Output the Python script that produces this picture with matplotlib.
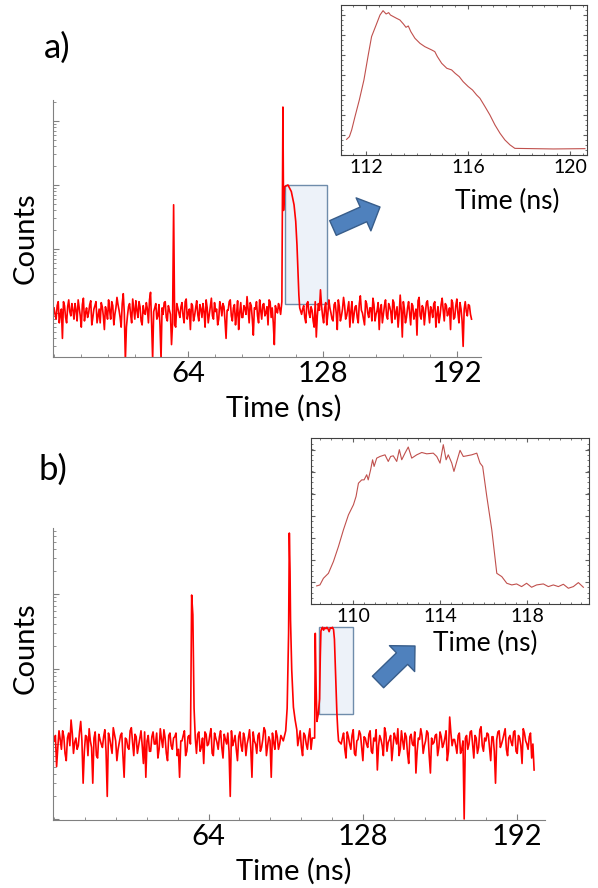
import numpy as np
import matplotlib
matplotlib.use('Agg')
import matplotlib.pyplot as plt
from matplotlib.patches import Rectangle
from matplotlib.ticker import LogLocator, NullFormatter, MultipleLocator, FixedLocator

plt.rcParams['font.family'] = ['Lato', 'DejaVu Sans']

# panel a) main trace (counts, log scale), noise on whole and half ns
a_left = [120, 80, 150, 95, 40, 130, 70, 160, 90, 110,
          140, 75, 120, 60, 170, 100, 85, 135, 65, 115,
          150, 90, 70, 125, 55, 105, 160, 80, 130, 95,
          175, 110, 60, 200, 18, 90, 140, 70, 115, 155,
          85, 125, 65, 100, 145, 70, 210, 19, 120, 80,
          135, 19, 95, 150, 75, 110, 32, 4900, 60, 120,
          85, 145, 70, 165, 100, 55, 130, 90, 155, 75,
          115, 140, 60, 120, 95, 170, 80, 105, 65, 150,
          90, 125, 40, 110, 160, 75, 135, 95, 55, 145,
          85, 120, 180, 70, 130, 45, 115, 90, 160, 80,
          140, 100, 65, 150, 120, 32, 110, 140, 95]
a_left_half = [95, 130, 70, 115, 150, 85, 125, 105, 140, 80,
               110, 160, 90, 135, 75, 120, 100, 155, 85, 130,
               70, 115, 145, 90, 125, 80, 110, 150, 65, 120,
               135, 85, 140, 100, 60, 125, 95, 165, 80, 110,
               150, 75, 130, 95, 115, 160, 70, 105, 140, 90,
               65, 120, 145, 85, 130, 95, 70, 65, 140, 100,
               125, 90, 150, 80, 115, 140, 75, 120, 95, 135,
               85, 105, 160, 70, 130, 90, 145, 115, 80, 125,
               140, 75, 110, 150, 90, 120, 65, 155, 100, 85,
               130, 95, 115, 145, 80, 120, 150, 70, 110, 135,
               90, 125, 160, 85, 70, 130, 100, 120]
a_pulse_t = [108.6, 109.1, 109.4, 109.9, 111.5, 113.1, 114.4, 115.2, 115.8, 116.3, 116.7, 117.1]
a_pulse_c = [150, 165000, 4000, 9400, 10000, 7900, 4900, 2700, 1150, 440, 190, 120]
a_right = [95, 130, 70, 150, 85, 110, 60, 42, 140, 230,
           90, 120, 65, 160, 100, 75, 145, 55, 125, 90,
           175, 80, 115, 60, 150, 95, 130, 70, 185, 100,
           65, 140, 85, 120, 170, 75, 110, 55, 135, 95,
           160, 80, 125, 70, 145, 100, 60, 190, 42, 115,
           85, 150, 65, 130, 95, 45, 175, 80, 120, 100,
           155, 70, 110, 140, 60, 125, 90, 170, 75, 130,
           100, 55, 145, 85, 165, 70, 115, 30, 150, 90,
           130, 80]
a_right_half = [115, 85, 140, 100, 125, 75, 150, 90, 110, 130,
                70, 145, 95, 120, 80, 135, 100, 160, 75, 115,
                130, 90, 150, 105, 70, 125, 85, 140, 110, 80,
                155, 100, 120, 75, 135, 95, 145, 115, 70, 130,
                90, 140, 105, 160, 80, 125, 95, 110, 150, 70,
                120, 100, 140, 80, 115, 155, 90, 130, 65, 145,
                105, 125, 85, 150, 95, 70, 135, 110, 140, 90,
                120, 160, 80, 130, 100, 145, 75, 115, 105, 135,
                95]

# panel b) main trace
b_left = [110, 50, 150, 85, 125, 60, 140, 209, 75, 120,
          95, 200, 30, 130, 70, 110, 30, 145, 65, 115,
          90, 155, 20, 120, 75, 135, 60, 105, 140, 36,
          115, 85, 165, 70, 125, 95, 150, 55, 36, 130,
          80, 145, 100, 65, 160, 90, 120, 60, 140, 85,
          125, 70, 36, 110, 150, 80, 130, 9700, 300, 75,
          145, 90, 55, 135, 100, 160, 70, 120, 85, 150,
          65, 115, 140, 20, 95, 130, 60, 145, 80, 120,
          100, 155, 36, 110, 75, 140, 90, 165, 70, 125,
          36, 105, 150, 85, 130, 110]
b_left_half = [130, 90, 115, 150, 75, 120, 95, 140, 105, 85,
               145, 110, 80, 125, 160, 90, 120, 70, 135, 100,
               125, 80, 140, 95, 165, 110, 85, 130, 70, 120,
               90, 150, 105, 135, 75, 120, 95, 145, 110, 80,
               125, 100, 140, 85, 115, 155, 75, 130, 95, 120,
               140, 85, 110, 130, 70, 125, 100, 5300, 120, 135,
               80, 120, 145, 95, 130, 75, 140, 105, 125, 90,
               135, 100, 80, 150, 110, 85, 125, 95, 140, 70,
               120, 90, 145, 100, 130, 80, 115, 150, 95, 110,
               140, 85, 125, 100, 120]
b_peak_t = [96.0, 96.6, 97.2, 97.5, 97.8, 98.0, 98.5, 99.2, 99.9, 100.6]
b_peak_c = [150, 300, 3000, 65000, 20000, 4500, 970, 310, 210, 155]
b_mid = [95, 150, 70, 130, 85, 160, 120]
b_mid_half = [120, 90, 140, 100, 125, 85]
b_pulse_t = [108.0, 108.26, 108.6, 108.95, 109.5, 110.05, 110.35, 110.61, 111.0, 111.3,
             111.7, 112.2, 112.7, 113.1, 113.6, 114.0, 114.5, 115.0, 115.4, 115.84,
             116.2, 116.53, 116.9, 117.22, 117.6, 117.91]
b_pulse_c = [120, 2990, 600, 200, 250, 400, 1500, 3200, 3500, 3600,
             3300, 3550, 3450, 3600, 3400, 3150, 3550, 3500, 3600, 3350,
             2500, 1200, 500, 260, 150, 110]
b_right = [100, 140, 65, 125, 85, 155, 70, 115, 135, 60,
           120, 90, 150, 75, 110, 45, 130, 95, 165, 80,
           115, 60, 140, 100, 70, 150, 85, 125, 55, 135,
           95, 41, 120, 160, 75, 110, 140, 41, 100, 130,
           70, 145, 90, 120, 60, 229, 95, 115, 75, 140,
           85, 10, 130, 100, 150, 65, 120, 90, 170, 80,
           110, 135, 60, 125, 30, 145, 90, 115, 160, 70,
           130, 95, 150, 75, 120, 55, 140, 100, 125, 65,
           45]
b_right_half = [120, 85, 145, 100, 130, 75, 110, 150, 90, 125,
                100, 135, 80, 120, 155, 95, 115, 70, 140, 105,
                130, 90, 120, 160, 85, 110, 140, 75, 125, 100,
                145, 80, 115, 130, 95, 150, 70, 120, 105, 135,
                90, 125, 100, 150, 80, 140, 115, 95, 130, 75,
                110, 120, 85, 145, 100, 130, 75, 155, 95, 120,
                140, 90, 125, 80, 115, 150, 100, 135, 85, 120,
                105, 145, 80, 130, 95, 160, 110, 85, 140, 100]

# insets (normalised counts, linear)
ia_t = [111.24, 111.35, 111.44, 111.57, 111.74, 111.92, 112.09, 112.22, 112.40, 112.55,
        112.67, 112.79, 112.89, 112.96, 113.08, 113.20, 113.33, 113.47, 113.57, 113.66,
        113.76, 113.92, 114.12, 114.31, 114.58, 114.70, 114.80, 114.97, 115.17, 115.36,
        115.50, 115.66, 115.81, 116.01, 116.18, 116.34, 116.47, 116.67, 116.86, 117.06,
        117.26, 117.45, 117.65, 117.84, 118.56, 119.35, 120.59]
ia_v = [0.104, 0.122, 0.167, 0.256, 0.367, 0.5, 0.667, 0.789, 0.867, 0.933,
        0.962, 0.940, 0.949, 0.933, 0.922, 0.911, 0.9, 0.873, 0.851, 0.860,
        0.822, 0.778, 0.744, 0.722, 0.7, 0.689, 0.656, 0.611, 0.578, 0.567,
        0.544, 0.522, 0.489, 0.456, 0.433, 0.4, 0.378, 0.322, 0.267, 0.2,
        0.144, 0.1, 0.067, 0.044, 0.042, 0.040, 0.042]
ib_t = [108.33, 108.48, 108.64, 108.87, 109.10, 109.33, 109.56, 109.79, 110.02, 110.14,
        110.25, 110.40, 110.51, 110.63, 110.70, 110.81, 110.90, 110.97, 111.09, 111.24,
        111.47, 111.62, 111.73, 111.85, 112.01, 112.13, 112.24, 112.39, 112.54, 112.70,
        112.93, 113.16, 113.39, 113.69, 113.85, 114.00, 114.08, 114.15, 114.28, 114.38,
        114.54, 114.64, 114.77, 114.92, 115.07, 115.23, 115.46, 115.69, 115.84, 115.96,
        116.15, 116.38, 116.61, 116.84, 117.07, 117.30, 117.52, 117.75, 117.98, 118.21,
        118.44, 118.75, 118.98, 119.21, 119.44, 119.67, 119.90, 120.13, 120.36, 120.59]
ib_v = [0.109, 0.115, 0.155, 0.185, 0.256, 0.346, 0.447, 0.537, 0.598, 0.648,
        0.728, 0.748, 0.748, 0.779, 0.748, 0.809, 0.869, 0.829, 0.879, 0.889,
        0.899, 0.859, 0.889, 0.893, 0.859, 0.930, 0.869, 0.909, 0.946, 0.879,
        0.899, 0.913, 0.905, 0.909, 0.889, 0.849, 0.909, 0.960, 0.869, 0.899,
        0.849, 0.799, 0.859, 0.926, 0.889, 0.893, 0.899, 0.909, 0.849, 0.829,
        0.648, 0.447, 0.185, 0.165, 0.125, 0.115, 0.121, 0.105, 0.125, 0.101,
        0.115, 0.121, 0.105, 0.115, 0.105, 0.119, 0.095, 0.105, 0.129, 0.101]

# zoom boxes (time range, count range)
a_box = (110.0, 130.0, 138, 10000)
b_box = (109.6, 124.1, 251, 3660)

time_ticks = [64, 128, 192]


def join(parts):
    # parts: (start time, step, values) or (times, values)
    ts, cs = [], []
    for p in parts:
        if len(p) == 3:
            ts.append(p[0] + p[1] * np.arange(len(p[2])))
            cs.append(np.asarray(p[2], float))
        else:
            ts.append(np.asarray(p[0], float))
            cs.append(np.asarray(p[1], float))
    t = np.concatenate(ts)
    c = np.concatenate(cs)
    order = np.argsort(t, kind='stable')
    return t[order], c[order]


a_t, a_c = join([(0, 1, a_left), (0.5, 1, a_left_half), (a_pulse_t, a_pulse_c),
                 (118, 1, a_right), (118.5, 1, a_right_half)])
b_t, b_c = join([(0, 1, b_left), (0.5, 1, b_left_half), (b_peak_t, b_peak_c),
                 (101, 1, b_mid), (101.5, 1, b_mid_half), (b_pulse_t, b_pulse_c),
                 (119, 1, b_right), (119.5, 1, b_right_half)])

fig = plt.figure(figsize=(5.98, 8.88), dpi=100)


def main_panel(rect, t, c, box, ylim, xlab_pos, ylab_pos):
    ax = fig.add_axes(rect)
    ax.add_patch(Rectangle((box[0], box[2]), box[1] - box[0], box[3] - box[2],
                           facecolor='#edf2f9', edgecolor='#6f8cab', lw=1, zorder=1))
    ax.plot(t, c, color='#ff0000', lw=1.2, zorder=2)
    ax.set_yscale('log')
    ax.set_xlim(-0.5, 203.5)
    ax.set_ylim(*ylim)
    ax.yaxis.set_major_locator(LogLocator(base=10, numticks=20))
    ax.yaxis.set_minor_locator(LogLocator(base=10, subs=range(2, 10), numticks=20))
    ax.yaxis.set_major_formatter(NullFormatter())
    ax.yaxis.set_minor_formatter(NullFormatter())
    ax.xaxis.set_major_locator(FixedLocator(time_ticks))
    ax.xaxis.set_minor_locator(MultipleLocator(12.8))
    for s in ['top', 'right']:
        ax.spines[s].set_visible(False)
    for s in ['left', 'bottom']:
        ax.spines[s].set_color('#808080')
    ax.tick_params(which='both', direction='in', color='#808080')
    ax.tick_params(which='major', length=4)
    ax.tick_params(which='minor', length=2)
    ax.tick_params(axis='x', labelsize=21, pad=3)
    ax.set_xlabel('Time (ns)', fontsize=21, va='center')
    ax.xaxis.set_label_coords(*xlab_pos)
    ax.set_ylabel('Counts', fontsize=21, va='center')
    ax.yaxis.set_label_coords(*ylab_pos)
    return ax


def inset(rect, t, v, xlim, ticks, xlab_pos):
    ax = fig.add_axes(rect)
    ax.plot(t, v, color='#c0504d', lw=0.8)
    ax.set_xlim(*xlim)
    ax.set_ylim(0, 1)
    ax.xaxis.set_major_locator(FixedLocator(ticks))
    ax.xaxis.set_minor_locator(MultipleLocator(0.5))
    ax.yaxis.set_major_locator(MultipleLocator(0.133))
    ax.yaxis.set_minor_locator(MultipleLocator(0.0333))
    ax.yaxis.set_major_formatter(NullFormatter())
    for s in ax.spines.values():
        s.set_color('#404040')
    ax.tick_params(which='both', direction='in', top=True, right=True, color='#606060')
    ax.tick_params(which='major', length=3)
    ax.tick_params(which='minor', length=1.5)
    ax.tick_params(axis='x', labelsize=14, pad=3)
    ax.set_xlabel('Time (ns)', fontsize=19, va='center')
    ax.xaxis.set_label_coords(*xlab_pos)
    return ax


ax_a = main_panel([0.0886, 0.598, 0.7157, 0.2894], a_t, a_c, a_box, (20.5, 2.13e5),
                  (0.54, -0.198), (-0.063, 0.463))
ax_b = main_panel([0.0886, 0.0766, 0.8227, 0.3288], b_t, b_c, b_box, (9.7, 7.6e4),
                  (0.49, -0.175), (-0.055, 0.589))

inset([0.5702, 0.8255, 0.4114, 0.1689], ia_t, ia_v, (111.02, 120.67), [112, 116, 120],
      (0.675, -0.307))
inset([0.5201, 0.3198, 0.4649, 0.1869], ib_t, ib_v, (108.07, 120.85), [110, 114, 118],
      (0.626, -0.235))

fig.text(57 / 598, 1 - 48 / 888, 'a)', fontsize=25, ha='center', va='center')
fig.text(53 / 598, 1 - 470 / 888, 'b)', fontsize=25, ha='center', va='center')

arrow = dict(arrowstyle='simple,head_length=0.65,head_width=1.3,tail_width=0.58',
             facecolor='#4f81bd', edgecolor='#385d8a', lw=1, shrinkA=0, shrinkB=0,
             mutation_scale=20)
ax_a.annotate('', xy=(380, 681), xytext=(333, 660), xycoords='figure pixels',
              textcoords='figure pixels', arrowprops=arrow)
ax_b.annotate('', xy=(415, 242), xytext=(378, 206), xycoords='figure pixels',
              textcoords='figure pixels', arrowprops=arrow)

fig.savefig('out.png', dpi=100)
